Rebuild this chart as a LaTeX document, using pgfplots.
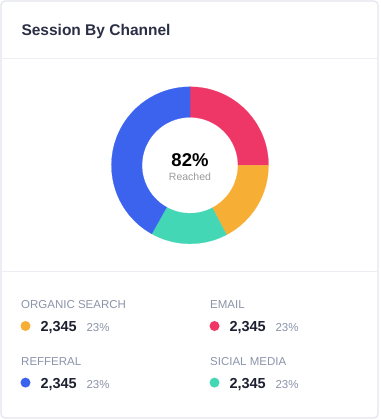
\documentclass[border=0pt]{standalone}
\usepackage{pgfplots}
\pgfplotsset{compat=1.18}
\usepackage{pgfplotstable}
\usepackage{fontspec}
\setmainfont{Liberation Sans}
\definecolor{cEmail}{HTML}{EF3767}
\definecolor{cOrganic}{HTML}{F7AE35}
\definecolor{cSocial}{HTML}{44D7B6}
\definecolor{cReferral}{HTML}{3B63EE}
\definecolor{cTitle}{HTML}{2B2F45}
\definecolor{cNum}{HTML}{1D2030}
\definecolor{cLabel}{HTML}{8A93A8}
\definecolor{cGray}{HTML}{9A9A9A}
\definecolor{cBorder}{HTML}{E2E5EC}
\definecolor{cSep}{HTML}{ECEEF3}

\pgfplotstableread{
label value
Email 25.0
Organic 17.3
Social 15.8
Referral 41.9
}\donutdata

\newcommand\fs[1]{\fontsize{#1}{#1}\selectfont}
\pgfplotstablegetelem{0}{value}\of\donutdata \pgfmathsetmacro\va{\pgfplotsretval}
\pgfplotstablegetelem{1}{value}\of\donutdata \pgfmathsetmacro\vb{\pgfplotsretval}
\pgfplotstablegetelem{2}{value}\of\donutdata \pgfmathsetmacro\vc{\pgfplotsretval}
\pgfplotstablegetelem{3}{value}\of\donutdata \pgfmathsetmacro\vd{\pgfplotsretval}
\pgfmathsetmacro\tot{\va+\vb+\vc+\vd}
\pgfmathsetmacro\aA{90}
\pgfmathsetmacro\aB{\aA-360*\va/\tot}
\pgfmathsetmacro\aC{\aB-360*\vb/\tot}
\pgfmathsetmacro\aD{\aC-360*\vc/\tot}
\pgfmathsetmacro\aE{\aD-360*\vd/\tot}
\def\Ro{78.5}
\def\Ri{48}
\newcommand\donutwedge[3]{%
  \fill[#1, draw=#1, line width=0.2pt] (axis cs:{\Ro*cos(#2)},{\Ro*sin(#2)})
    arc[start angle=#2, end angle=#3, radius=\Ro pt]
    -- (axis cs:{\Ri*cos(#3)},{\Ri*sin(#3)})
    arc[start angle=#3, end angle=#2, radius=\Ri pt] -- cycle;}

\begin{document}
\begin{tikzpicture}[x=1pt,y=1pt]
\useasboundingbox (0,0) rectangle (380,420);
% card
\draw[cBorder, line width=1.2pt, rounded corners=4pt] (1,2) rectangle (378,419);
\draw[cSep, line width=1.2pt] (1.6,420-58.5) -- (377.4,420-58.5);
\draw[cSep, line width=1.2pt] (1.6,420-271.5) -- (377.4,420-271.5);
% title
\node[anchor=base west, inner sep=0pt, text=cTitle] at (21.3,420-35.7) {\fs{15.5pt}\bfseries Session By Channel};
% donut
\begin{axis}[at={(190pt,254.7pt)}, anchor=center, scale only axis,
  width=160pt, height=160pt, xmin=-80, xmax=80, ymin=-80, ymax=80, hide axis]
\donutwedge{cEmail}{\aA}{\aB}
\donutwedge{cOrganic}{\aB}{\aC}
\donutwedge{cSocial}{\aC}{\aD}
\donutwedge{cReferral}{\aD}{\aE}
\end{axis}
\node[anchor=base, inner sep=0pt, text=black] at (190,420-166.7) {\fs{18.5pt}\bfseries 82\%};
\node[anchor=base, inner sep=0pt, text=cGray] at (190,420-180.4) {\fs{10.5pt}Reached};
% legend
\foreach \x/\y/\lab/\col in {21/0/ORGANIC SEARCH/cOrganic, 210/0/EMAIL/cEmail, 21/56.6/REFFERAL/cReferral, 210/56.6/SICIAL MEDIA/cSocial}{
  \node[anchor=base west, inner sep=0pt, text=cLabel] at (\x,420-308.7-\y) {\fs{11.5pt}\lab};
  \fill[\col] (\x+4.5,420-326-\y) circle (5);
  \node[anchor=base west, inner sep=0pt, text=cNum] at (\x+19.3,420-331.5-\y) {\fs{14.5pt}\bfseries 2,345};
  \node[anchor=base west, inner sep=0pt, text=cLabel] at (\x+65.3,420-331.5-\y) {\fs{11.5pt}23\%};
}
\end{tikzpicture}
\end{document}
